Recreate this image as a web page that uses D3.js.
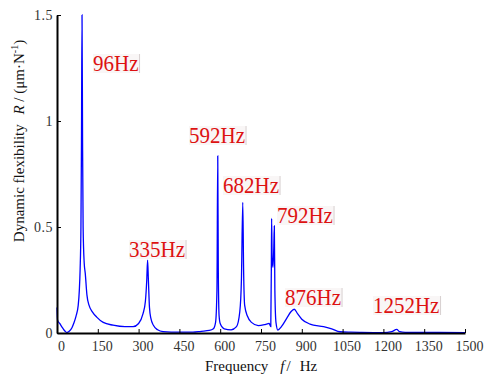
<!DOCTYPE html>
<html><head><meta charset="utf-8">
<script src="https://cdn.jsdelivr.net/npm/d3@7"></script>
<style>body{margin:0;background:#fff}svg{display:block}</style>
</head><body>
<script>
// Data
const freq = [0,2,10,20,30,36,45,55,62,70,78,82,85,88,90,92,94,96,100,104,110,118,130,146,170,206,250,280,300,316,325,330,333,336,340,345,355,370,390,420,500,530,560,575,583,588,591,593,596,600,615,640,660,672,678,683,686,690,700,715,740,765,780,786,788,789,791,794,797,799,801,805,812,825,845,860,872,885,900,930,980,1010,1040,1080,1120,1200,1230,1249,1260,1280,1500];
const flex = [0.12,0.06,0.045,0.025,0.008,0.002,0.008,0.025,0.047,0.08,0.13,0.2,0.3,0.5,0.9,1.5,0.9,0.5,0.33,0.28,0.18,0.13,0.1,0.075,0.05,0.037,0.03,0.03,0.045,0.09,0.15,0.25,0.344,0.25,0.12,0.07,0.035,0.015,0.006,0.004,0.004,0.008,0.012,0.02,0.05,0.2,0.835,0.3,0.08,0.045,0.02,0.015,0.03,0.1,0.25,0.616,0.3,0.13,0.08,0.05,0.035,0.04,0.045,0.03,0.3,0.541,0.35,0.31,0.4,0.505,0.2,0.05,0.014,0.03,0.07,0.1,0.112,0.09,0.065,0.042,0.03,0.02,0.006,0.004,0.003,0.002,0.006,0.017,0.006,0.003,0.002];
const peakLabels = ["96Hz","335Hz","592Hz","682Hz","792Hz","876Hz","1252Hz"];
const peakFreq = [92,333,591,683,789,872,1249];
const xTicks = [0,150,300,450,600,750,900,1050,1200,1350,1500];
const yTicks = [0,0.5,1,1.5];
const yTickLabels = ["0","0.5","1","1.5"];

const W = 486, H = 379;
const FONT = "Liberation Serif";
const svg = d3.select("body").append("svg").attr("width", W).attr("height", H);
const x = d3.scaleLinear().domain([0,1500]).range([57,465]);
const y = d3.scaleLinear().domain([0,1.5]).range([333,15]);

// line
const pts = freq.map((f,i)=>[f,flex[i]]);
svg.append("path").datum(pts)
  .attr("d", d3.line().x(d=>x(d[0])).y(d=>y(d[1])).curve(d3.curveMonotoneX))
  .attr("fill","none").attr("stroke","#0000ff").attr("stroke-width",1.3);

// axes
const xAxis = svg.append("g").attr("transform","translate(0,333)")
  .call(d3.axisBottom(x).tickValues(xTicks).tickSizeInner(-4).tickSizeOuter(0).tickFormat(d3.format("d")));
xAxis.attr("font-family",null);
xAxis.select(".domain").attr("stroke","#000").attr("stroke-width",2);
xAxis.selectAll(".tick line").attr("stroke","#000");
xAxis.selectAll(".tick text").attr("y",8).attr("dy","0.71em").attr("dx",4)
  .style("font-family",FONT).style("font-size","14px").attr("fill","#333");

const yAxis = svg.append("g").attr("transform","translate(57,0)")
  .call(d3.axisLeft(y).tickValues(yTicks).tickSizeInner(-4).tickSizeOuter(0).tickFormat((d,i)=>yTickLabels[i]));
yAxis.attr("font-family",null);
yAxis.select(".domain").attr("stroke","#000").attr("stroke-width",2);
yAxis.selectAll(".tick line").attr("stroke","#000");
yAxis.selectAll(".tick text").attr("x",-4).attr("letter-spacing",0.5)
  .style("font-family",FONT).style("font-size","14px").attr("fill","#333");

// peak labels
const labelPos = [[93,71],[129,257],[189,143],[223,193],[277,223],[285,305],[373,313]];
peakLabels.forEach((t,i)=>{
  const g = svg.append("g");
  const tx = g.append("text").attr("x",labelPos[i][0]).attr("y",labelPos[i][1])
    .style("font-family",FONT).style("font-size","21px").attr("fill","#dd1111")
    .attr("transform",`translate(0,${labelPos[i][1]}) scale(1,1.12) translate(0,${-labelPos[i][1]})`)
    .text(t);
  const bb = tx.node().getBBox();
  g.insert("rect","text").attr("x",bb.x).attr("y",labelPos[i][1]-17).attr("width",bb.width+1).attr("height",19)
    .attr("fill","#f3eded").attr("opacity",0.5);
  g.append("line").attr("x1",bb.x+bb.width+1).attr("x2",bb.x+bb.width+1)
    .attr("y1",labelPos[i][1]-17).attr("y2",labelPos[i][1]+2).attr("stroke","#d8d0d0").attr("stroke-width",1);
});

// x title
const xt = svg.append("text").attr("x",205).attr("y",371)
  .style("font-family",FONT).style("font-size","15px").attr("fill","#111");
xt.append("tspan").text("Frequency");
xt.append("tspan").attr("dx",12).style("font-style","italic").text("f");
xt.append("tspan").attr("dx",2).text("/");
xt.append("tspan").attr("dx",9).text("Hz");

// y title
const yt = svg.append("text").attr("transform","translate(24,141) rotate(-90)")
  .attr("text-anchor","middle").style("font-family",FONT).style("font-size","15px").attr("fill","#111");
yt.append("tspan").text("Dynamic flexibility ");
yt.append("tspan").attr("dx",6).style("font-style","italic").text("R");
yt.append("tspan").text(" / (μm·N");
yt.append("tspan").style("font-size","10px").attr("dy",-6).text("-1");
yt.append("tspan").attr("dy",6).text(")");
</script>
</body></html>
